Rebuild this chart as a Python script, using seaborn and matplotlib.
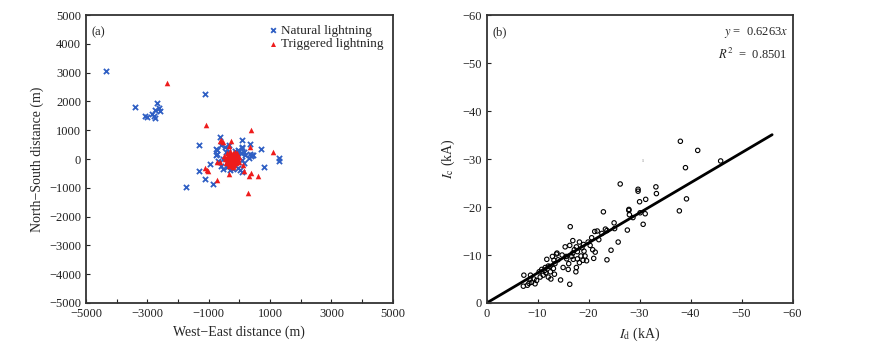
import numpy as np
import pandas as pd
import seaborn as sns
import matplotlib.pyplot as plt

# Panel (a): lightning locations (m)
natural_x = [-4350, -3400, -3070, -3020, -2850, -2800, -2750, -2740, -2690, -2630, -2590,
             -1110, -1310, -640, -735, -755, 100, 350, 90, 690, 375, 400, 1290, 1300, 800,
             -960, -1320, -1110, -1730, -850, -766, -723, -612, -472, -332, 81, 146, 180,
             352, 430, 320, -547, -710, -58, 27, 71, -547, -36, -146, -385, 136, -407,
             -300, -603, -50, -450, 100, -200, 50]
natural_y = [3050, 1810, 1480, 1470, 1550, 1500, 1410, 1700, 1940, 1780, 1670,
             2270, 500, 780, 323, 128, 660, 520, 380, 336, 104, 150, 20, -80, -266,
             -174, -427, -700, -980, -860, 337, 163, 486, 428, 486, 405, 243, 139,
             163, 139, 46, -10, -59, -323, -382, -440, -358, 198, 278, 243, -128, -266,
             -382, -243, 300, 250, -50, -350, 200]

triggered_x = [-2350, -1090, 380, 1090, -625, -590, -287, -332, 352, -72, -743, -645,
               -1114, -1069, -1016, -352, 104, 136, 384, 300, 603, -723, 277, -49, -547,
               -250, -200, -300, -150, -350, -280, -220, -180, -320, -400, -100, -260,
               -140, -360, -200, -300, -420, -80, -230, -330, -120, -60, -450, -170,
               -270, -210, -310, -190, -240, -290, -160, -350, -100, -380, -50, -130,
               -260, -400, -480, -20, -200, -300, 0, -150, -500]
triggered_y = [2630, 1180, 1020, 243, 615, 650, 636, 462, 417, 198, -94, -115,
               -323, -372, -406, -510, -208, -427, -476, -601, -601, -740, -1170, 80, 590,
               0, 50, -50, -20, 30, 100, -100, 120, -120, -60, 60, -160,
               -120, 150, 200, 220, 80, -60, -220, -250, 170, 120, -150, -190,
               40, -40, -10, 10, 70, -80, 80, -180, -150, -100, 10, -80,
               160, 200, 0, -100, -280, 280, 80, 250, 100]

# Panel (b): Id vs Ic (kA)
id_vals = [-38.0, -41.4, -39.0, -45.9, -26.2, -33.2, -33.3, -29.7, -29.7, -30.0, -39.2,
           -31.2, -22.9, -27.9, -27.9, -28.0, -30.1, -31.1, -28.7, -37.8, -30.7, -27.6,
           -25.0, -23.3, -25.1, -25.8, -24.4, -23.6, -16.4, -21.2, -21.7, -22.6, -23.6,
           -20.6, -19.9, -19.0, -16.9, -18.2, -20.8, -21.3, -21.0, -19.6, -18.9, -17.8,
           -17.6, -17.2, -16.3, -17.0, -17.6, -17.5, -16.1, -16.3, -16.0, -14.5, -15.0,
           -13.7, -13.8, -12.9, -13.2, -13.4, -12.1, -11.5, -10.8, -13.1, -12.5, -11.6,
           -11.1, -12.1, -12.6, -13.3, -10.3, -10.5, -7.3, -7.2, -8.0, -8.5, -8.6, -8.8,
           -9.3, -9.5, -9.8, -8.3, -11.8, -15.4, -15.6, -15.7, -16.7, -17.8, -18.2,
           -18.5, -19.1, -19.3, -20.3, -14.0, -14.8, -11.4, -12.4, -16.9, -18.7, -22.0]
ic_vals = [-33.7, -31.8, -28.2, -29.6, -24.8, -24.2, -22.8, -23.7, -23.3, -21.1, -21.7,
           -21.6, -19.0, -19.5, -19.3, -18.4, -18.8, -18.6, -17.8, -19.2, -16.4, -15.2,
           -16.7, -15.4, -15.5, -12.7, -11.0, -9.0, -15.9, -14.9, -15.0, -14.5, -15.1,
           -13.6, -12.7, -12.2, -13.0, -12.7, -11.1, -10.6, -9.3, -8.8, -8.9, -10.7,
           -11.7, -11.1, -12.0, -9.1, -7.4, -6.5, -8.2, -3.9, -7.0, -4.8, -7.4,
           -10.2, -10.4, -9.7, -8.9, -8.2, -7.7, -7.4, -7.0, -7.2, -6.5, -6.3,
           -5.8, -5.4, -5.0, -6.0, -6.5, -5.4, -5.8, -3.5, -3.7, -4.9, -5.8, -4.3,
           -5.0, -4.0, -4.7, -4.1, -9.1, -11.7, -9.7, -9.2, -9.7, -9.2, -8.4,
           -9.8, -10.8, -9.8, -12.0, -9.0, -10.0, -6.8, -7.6, -10.4, -11.5, -13.2]

slope = 0.6263
r2 = 0.8501
line_x = np.array([0, -56])

sns.set_style("ticks", {"xtick.direction": "in", "ytick.direction": "in"})
plt.rcParams['font.family'] = ['Liberation Serif', 'DejaVu Serif']
plt.rcParams['mathtext.fontset'] = 'stix'
plt.rcParams['font.size'] = 9

fig = plt.figure(figsize=(8.69, 3.59), dpi=100)
ax1 = fig.add_axes([0.099, 0.156, 0.353, 0.802])
ax2 = fig.add_axes([0.560, 0.156, 0.352, 0.802])

# (a)
nat = pd.DataFrame({"x": natural_x, "y": natural_y})
trg = pd.DataFrame({"x": triggered_x, "y": triggered_y})
sns.scatterplot(data=nat, x="x", y="y", marker="x", color="#2f5fc4", s=14,
                linewidth=1.3, label="Natural lightning", ax=ax1)
sns.scatterplot(data=trg, x="x", y="y", marker="^", color="#ee1c1c", s=16,
                linewidth=0, label="Triggered lightning", ax=ax1)
ax1.set_xlim(-5000, 5000)
ax1.set_ylim(-5000, 5000)
ticks = np.arange(-5000, 5001, 1000)
ax1.set_xticks(ticks)
ax1.set_xticklabels([f"{t}".replace("-", "\u2212") if t % 2000 else "" for t in ticks])
ax1.set_yticks(ticks)
ax1.set_yticklabels([f"{t}".replace("-", "\u2212") for t in ticks])
ax1.set_xlabel("West\u2212East distance (m)", fontsize=10)
ax1.set_ylabel("North\u2212South distance (m)", fontsize=10)
ax1.text(0.018, 0.96, "(a)", transform=ax1.transAxes, ha="left", va="top", fontsize=9)
ax1.legend(loc="upper right", frameon=False, fontsize=9.5, handletextpad=0.0,
           handlelength=1.2, borderaxespad=0.5, labelspacing=0.1, borderpad=0.2,
           markerscale=0.9)

# (b)
pts = pd.DataFrame({"Id": id_vals, "Ic": ic_vals})
sns.scatterplot(data=pts, x="Id", y="Ic", marker="o", s=10, facecolor="none",
                edgecolor="black", linewidth=0.8, ax=ax2)
fit = pd.DataFrame({"x": line_x, "y": slope * line_x})
sns.lineplot(data=fit, x="x", y="y", color="black", linewidth=2, ax=ax2)
ax2.set_xlim(0, -60)
ax2.set_ylim(0, -60)
ax2.set_xticks(np.arange(0, -61, -10))
ax2.set_yticks(np.arange(0, -61, -10))
ax2.set_xlabel(r"$I_{\rm d}$ (kA)", fontsize=10)
ax2.set_ylabel(r"$I_{\rm c}$ (kA)", fontsize=10)
ax2.text(0.018, 0.96, "(b)", transform=ax2.transAxes, ha="left", va="top", fontsize=9)
ax2.text(0.985, 0.965, r"$y$ =  0.6263$x$", transform=ax2.transAxes, ha="right",
         va="top", fontsize=9)
ax2.text(0.985, 0.89, r"$R^2$  =  0.8501", transform=ax2.transAxes, ha="right",
         va="top", fontsize=9)
ax2.text(-30.7, -29.7, "ı", fontsize=5, color="#999999", ha="center", va="center")

for ax in (ax1, ax2):
    for s in ax.spines.values():
        s.set_linewidth(1.3)
        s.set_color("#333333")
    ax.tick_params(direction="in", length=3, width=0.8, labelsize=9, colors="#222222")

fig.savefig("out.png", dpi=100)
